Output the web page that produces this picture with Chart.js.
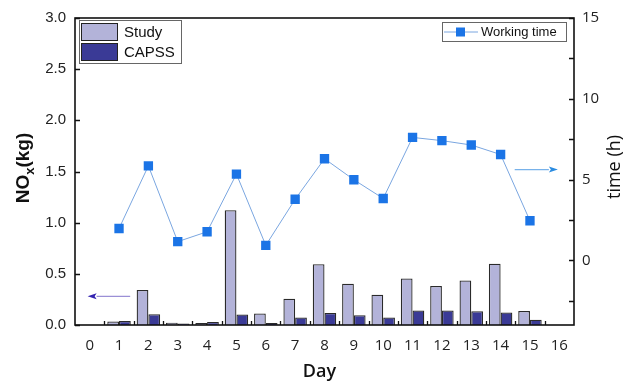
<!DOCTYPE html>
<html>
<head>
<meta charset="utf-8">
<script src="https://cdn.jsdelivr.net/npm/chart.js@4/dist/chart.umd.min.js"></script>
<style>
  html, body { margin: 0; padding: 0; background: #ffffff; }
  #wrap { width: 634px; height: 386px; }
</style>
</head>
<body>
<div id="wrap"><canvas id="c" width="634" height="386"></canvas></div>
<script>
// Daily NOx emissions (kg) and working time (h)
const days = ['0','1','2','3','4','5','6','7','8','9','10','11','12','13','14','15','16'];
const study = [null, 0.035, 0.343, 0.022, 0.02, 1.122, 0.112, 0.256, 0.593, 0.404, 0.295, 0.455, 0.381, 0.436, 0.599, 0.137, null];
const capss = [null, 0.04, 0.106, 0.015, 0.03, 0.103, 0.02, 0.074, 0.118, 0.096, 0.074, 0.141, 0.141, 0.135, 0.122, 0.051, null];
const workingTime = [null, 1.97, 5.85, 1.16, 1.77, 5.34, 0.93, 3.78, 6.29, 4.99, 3.83, 7.61, 7.41, 7.14, 6.55, 2.45, null];
const timeTicks = [-2.5, 0, 2.5, 5, 7.5, 10, 12.5, 15];

const COL_STUDY = '#b3b3d9';
const COL_CAPSS = '#3a3a96';
const COL_LINE = '#7aa6e0';
const COL_MARK = '#1b74e6';

// Arrows pointing each series to its axis (in data units)
const arrows = [
  { axis: 'y', from: 1.38, to: -0.07, value: 0.28, shaft: '#9b90d6', head: '#3424b0' },
  { axis: 'y2', from: 14.48, to: 15.95, value: 5.62, shaft: '#78b2ea', head: '#2a8be0' }
];

const sansFont = '"Liberation Sans", Arial, sans-serif';
const openFont = '"Open Sans", "DejaVu Sans", sans-serif';

const decorations = {
  id: 'decorations',
  afterDraw(chart) {
    const ctx = chart.ctx;
    const a = chart.chartArea;
    const xs = chart.scales.x, ys = chart.scales.y, y2 = chart.scales.y2;
    ctx.save();

    // inward tick marks
    ctx.strokeStyle = '#111';
    ctx.lineWidth = 1.3;
    ctx.beginPath();
    ys.ticks.forEach(t => {
      const p = Math.round(ys.getPixelForValue(t.value)) + 0.5;
      ctx.moveTo(a.left, p); ctx.lineTo(a.left + 5, p);
    });
    y2.ticks.forEach(t => {
      const p = Math.round(y2.getPixelForValue(t.value)) + 0.5;
      ctx.moveTo(a.right, p); ctx.lineTo(a.right - 5, p);
    });
    for (let k = 0; k < 16; k++) {
      const p = Math.round((xs.getPixelForValue(k) + xs.getPixelForValue(k + 1)) / 2) + 0.5;
      ctx.moveTo(p, a.bottom); ctx.lineTo(p, a.bottom - 4);
    }
    ctx.stroke();

    // plot frame
    ctx.lineWidth = 1.6;
    ctx.strokeStyle = '#111';
    ctx.strokeRect(a.left, a.top, a.right - a.left, a.bottom - a.top);

    // arrows
    arrows.forEach(ar => {
      const sc = chart.scales[ar.axis];
      const y = sc.getPixelForValue(ar.value);
      const x0 = xs.getPixelForValue(ar.from);
      const x1 = xs.getPixelForValue(ar.to);
      const dir = Math.sign(x1 - x0);
      const headLen = 9;
      ctx.strokeStyle = ar.shaft;
      ctx.lineWidth = 1.3;
      ctx.beginPath();
      ctx.moveTo(x0, y); ctx.lineTo(x1 - dir * headLen, y);
      ctx.stroke();
      ctx.fillStyle = ar.head;
      ctx.beginPath();
      ctx.moveTo(x1, y);
      ctx.lineTo(x1 - dir * headLen, y - 3);
      ctx.lineTo(x1 - dir * (headLen - 2), y);
      ctx.lineTo(x1 - dir * headLen, y + 3);
      ctx.closePath();
      ctx.fill();
    });

    // bar legend
    const lx = a.left + 4, ly = a.top + 2;
    ctx.fillStyle = '#fff';
    ctx.strokeStyle = '#666';
    ctx.lineWidth = 1;
    ctx.fillRect(lx, ly, 102, 43);
    ctx.strokeRect(lx + 0.5, ly + 0.5, 102, 43);
    [[COL_STUDY, 'Study'], [COL_CAPSS, 'CAPSS']].forEach((item, i) => {
      const by = ly + 3 + i * 20;
      ctx.fillStyle = item[0];
      ctx.fillRect(lx + 2, by, 37, 18);
      ctx.strokeStyle = '#222';
      ctx.lineWidth = 1;
      ctx.strokeRect(lx + 2.5, by + 0.5, 36, 17);
      ctx.fillStyle = '#111';
      ctx.font = '15px ' + sansFont;
      ctx.textBaseline = 'middle';
      ctx.textAlign = 'left';
      ctx.fillText(item[1], lx + 45, by + 9.5);
    });

    // line legend
    const rx = a.right - 132, ry = a.top + 4;
    ctx.fillStyle = '#fff';
    ctx.fillRect(rx, ry, 124, 19);
    ctx.strokeStyle = '#666';
    ctx.strokeRect(rx + 0.5, ry + 0.5, 124, 19);
    ctx.strokeStyle = COL_LINE;
    ctx.lineWidth = 1;
    ctx.beginPath();
    ctx.moveTo(rx + 2, ry + 10); ctx.lineTo(rx + 36, ry + 10);
    ctx.stroke();
    ctx.fillStyle = COL_MARK;
    ctx.fillRect(rx + 14, ry + 5.5, 9, 9);
    ctx.fillStyle = '#111';
    ctx.font = '13px ' + sansFont;
    ctx.textBaseline = 'middle';
    ctx.fillText('Working time', rx + 39, ry + 10.5);

    // axis titles
    ctx.fillStyle = '#111';
    ctx.textAlign = 'center';
    ctx.textBaseline = 'middle';
    ctx.font = '600 18px ' + openFont;
    ctx.fillText('Day', (a.left + a.right) / 2 - 5, 372);

    ctx.save();
    ctx.translate(615, 167);
    ctx.rotate(-Math.PI / 2);
    ctx.font = '18px ' + openFont;
    ctx.fillText('time (h)', 0, 0);
    ctx.restore();

    ctx.save();
    ctx.translate(24, 168);
    ctx.rotate(-Math.PI / 2);
    const big = 'bold 19px ' + sansFont, small = 'bold 13px ' + sansFont;
    ctx.font = big; const w1 = ctx.measureText('NO').width;
    ctx.font = small; const w2 = ctx.measureText('x').width;
    ctx.font = big; const w3 = ctx.measureText('(kg)').width;
    let sx = -(w1 + w2 + w3) / 2;
    ctx.textAlign = 'left';
    ctx.font = big; ctx.fillText('NO', sx, 0); sx += w1;
    ctx.font = small; ctx.fillText('x', sx, 6); sx += w2;
    ctx.font = big; ctx.fillText('(kg)', sx, 0);
    ctx.restore();

    ctx.restore();
  }
};

new Chart(document.getElementById('c'), {
  data: {
    labels: days,
    datasets: [
      {
        type: 'line', label: 'Working time', data: workingTime, yAxisID: 'y2', order: 0,
        borderColor: COL_LINE, borderWidth: 1, backgroundColor: COL_MARK,
        pointStyle: 'rect', pointRadius: 6.6, pointBackgroundColor: COL_MARK,
        pointBorderColor: COL_MARK, pointBorderWidth: 0, tension: 0
      },
      {
        type: 'bar', label: 'Study', data: study, yAxisID: 'y', order: 1,
        backgroundColor: COL_STUDY, borderColor: '#2a2a2a', borderWidth: 1.3,
        categoryPercentage: 0.8, barPercentage: 1.0
      },
      {
        type: 'bar', label: 'CAPSS', data: capss, yAxisID: 'y', order: 1,
        backgroundColor: COL_CAPSS, borderColor: '#2a2a2a', borderWidth: 1.3,
        categoryPercentage: 0.8, barPercentage: 1.0
      }
    ]
  },
  options: {
    responsive: false,
    animation: false,
    devicePixelRatio: 1,
    layout: { padding: { top: 13, left: 0, right: 0, bottom: 0 } },
    plugins: { legend: { display: false }, tooltip: { enabled: false } },
    scales: {
      x: {
        type: 'category', offset: true,
        grid: { display: false, drawTicks: false }, border: { display: false },
        ticks: { color: '#222', font: { family: openFont, size: 15 }, padding: 12, maxRotation: 0, autoSkip: false },
        afterFit(s) { s.height = 61; }
      },
      y: {
        position: 'left', min: 0, max: 3,
        grid: { display: false, drawTicks: false }, border: { display: false },
        ticks: { stepSize: 0.5, color: '#222', font: { family: sansFont, size: 15 }, padding: 9,
          callback: v => Number(v).toFixed(1) },
        afterFit(s) { s.width = 75; }
      },
      y2: {
        position: 'right', min: -4, max: 15,
        grid: { display: false, drawTicks: false }, border: { display: false },
        afterBuildTicks(s) { s.ticks = timeTicks.map(v => ({ value: v })); },
        ticks: { color: '#222', font: { family: openFont, size: 15 }, padding: 8,
          callback: v => (v >= 0 && v % 5 === 0) ? String(v) : '' },
        afterFit(s) { s.width = 60; }
      }
    }
  },
  plugins: [decorations]
});
</script>
</body>
</html>
